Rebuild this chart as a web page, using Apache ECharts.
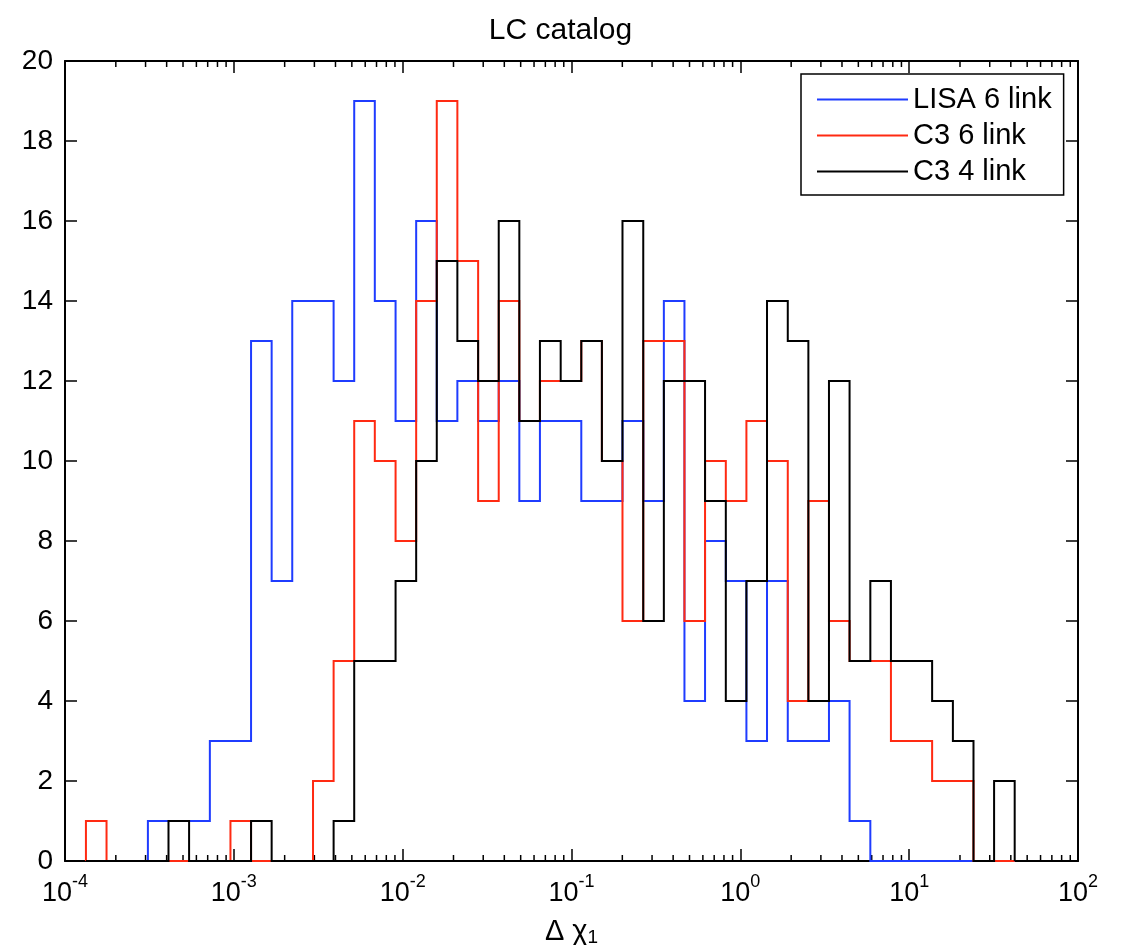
<!DOCTYPE html>
<html><head><meta charset="utf-8">
<script src="https://cdn.jsdelivr.net/npm/echarts@6/dist/echarts.min.js"></script>
<style>html,body{margin:0;padding:0;background:#fff}#c{width:1121px;height:945px}</style>
</head><body><div id="c"></div>
<script>
// Histogram bin edges (log10 of Δχ1)
const binEdgesLog10 = [-3.876,-3.754,-3.631,-3.509,-3.387,-3.265,-3.142,-3.020,-2.898,-2.776,
  -2.654,-2.531,-2.409,-2.287,-2.165,-2.042,-1.920,-1.798,-1.676,-1.553,
  -1.431,-1.309,-1.187,-1.064,-0.942,-0.820,-0.698,-0.575,-0.453,-0.331,
  -0.209,-0.086,0.036,0.158,0.281,0.403,0.525,0.647,0.770,0.892,
  1.014,1.136,1.259,1.381,1.503,1.625];
// Counts per bin
const lisa6link = [0,0,0,1,1,1,3,3,13,7,14,14,12,19,14,11,16,11,12,11,12,9,11,11,9,9,11,9,14,4,8,7,3,7,3,3,4,1,0,0,0,0,0,0,0];
const c3_6link  = [1,0,0,0,0,0,0,1,0,0,0,2,5,11,10,8,14,19,15,9,14,11,12,12,13,10,6,13,13,6,10,9,11,10,4,9,6,5,5,3,3,2,2,0,0];
const c3_4link  = [0,0,0,0,1,0,0,0,1,0,0,0,1,5,5,7,10,15,13,12,16,11,13,12,13,10,16,6,12,12,9,4,7,14,13,4,12,5,7,5,5,4,3,0,2];
const seriesNames = ['LISA 6 link','C3 6 link','C3 4 link'];
const seriesColors = ['#1f3cff','#ff2a12','#000000'];
const decadeExponents = [-4,-3,-2,-1,0,1,2];
const minorMultipliers = [2,3,4,5,6,7,8,9];

const FONT = "'Liberation Sans', Arial, Helvetica, sans-serif";

function stairs(counts){
  const pts = [[Math.pow(10, binEdgesLog10[0]), 0]];
  for (let k = 0; k < counts.length; k++){
    pts.push([Math.pow(10, binEdgesLog10[k]), counts[k]]);
    pts.push([Math.pow(10, binEdgesLog10[k+1]), counts[k]]);
  }
  pts.push([Math.pow(10, binEdgesLog10[counts.length]), 0]);
  return pts;
}

const minorTickValues = [];
decadeExponents.slice(0, -1).forEach(n => minorMultipliers.forEach(m => minorTickValues.push([m * Math.pow(10, n), 0])));

const chart = echarts.init(document.getElementById('c'), null, {renderer:'canvas'});
const axisLineStyle = {color:'#000', width:2};
chart.setOption({
  animation:false,
  backgroundColor:'#fff',
  textStyle:{fontFamily:FONT},
  title:{text:'LC catalog', left:'center', top:11,
    textStyle:{fontFamily:FONT, fontSize:30, fontWeight:'normal', color:'#000'}},
  grid:{left:65, top:61, width:1013, height:800, containLabel:false, outerBoundsMode:'none'},
  legend:{
    data:seriesNames.map(n => ({name:n, icon:'rect'})), orient:'vertical', left:801, top:74,
    padding:[11,12,9,16], itemGap:7, itemWidth:91, itemHeight:2,
    borderColor:'#000', borderWidth:1.5, backgroundColor:'#fff',
    textStyle:{fontFamily:FONT, fontSize:29, lineHeight:28, color:'#000'},
    selectedMode:false
  },
  xAxis:[{
    type:'log', logBase:10, min:1e-4, max:1e2, position:'bottom',
    axisLine:{show:true, onZero:false, lineStyle:axisLineStyle},
    axisTick:{show:true, inside:true, length:12, lineStyle:{color:'#000', width:1.5}},
    minorTick:{show:false}, splitLine:{show:false},
    axisLabel:{show:true, margin:12, color:'#000',
      formatter:v => '{b|10}{e|' + Math.round(Math.log10(v)) + '}',
      rich:{b:{fontFamily:FONT, fontSize:27, color:'#000', lineHeight:34, verticalAlign:'bottom'},
            e:{fontFamily:FONT, fontSize:18, color:'#000', lineHeight:18, verticalAlign:'top'}}},
    name:'Δ χ{s|1}', nameLocation:'middle', nameGap:52,
    nameTextStyle:{fontFamily:FONT, fontSize:29, color:'#000',
      rich:{s:{fontFamily:FONT, fontSize:19, color:'#000', verticalAlign:'bottom', lineHeight:19, padding:[16,0,0,0]}}}
  },{
    type:'log', logBase:10, min:1e-4, max:1e2, position:'top',
    axisLine:{show:true, onZero:false, lineStyle:axisLineStyle},
    axisTick:{show:true, inside:true, length:12, lineStyle:{color:'#000', width:1.5}},
    axisLabel:{show:false}, splitLine:{show:false}
  }],
  yAxis:[{
    type:'value', min:0, max:20, interval:2, position:'left',
    axisLine:{show:true, lineStyle:axisLineStyle},
    axisTick:{show:true, inside:true, length:12, lineStyle:{color:'#000', width:1.5}},
    splitLine:{show:false},
    axisLabel:{show:true, margin:12, color:'#000', fontFamily:FONT, fontSize:28}
  },{
    type:'value', min:0, max:20, interval:2, position:'right',
    axisLine:{show:true, lineStyle:axisLineStyle},
    axisTick:{show:true, inside:true, length:12, lineStyle:{color:'#000', width:1.5}},
    splitLine:{show:false}, axisLabel:{show:false}
  }],
  series:[
    {name:'minor ticks', type:'custom', xAxisIndex:0, yAxisIndex:0, clip:false, silent:true, z:1,
      data:minorTickValues,
      renderItem:(params, api) => {
        const b = api.coord([api.value(0), 0]);
        const t = api.coord([api.value(0), 20]);
        const st = {stroke:'#000', lineWidth:1.5};
        return {type:'group', children:[
          {type:'line', shape:{x1:b[0], y1:b[1], x2:b[0], y2:b[1]-6}, style:st},
          {type:'line', shape:{x1:t[0], y1:t[1], x2:t[0], y2:t[1]+6}, style:st}
        ]};
      }},
    ...[lisa6link, c3_6link, c3_4link].map((counts, i) => ({
      name:seriesNames[i], type:'line', xAxisIndex:0, yAxisIndex:0,
      data:stairs(counts), symbol:'none', showSymbol:false, z:3,
      lineStyle:{color:seriesColors[i], width:2, join:'miter'},
      itemStyle:{color:seriesColors[i]}
    }))
  ]
});
</script></body></html>
